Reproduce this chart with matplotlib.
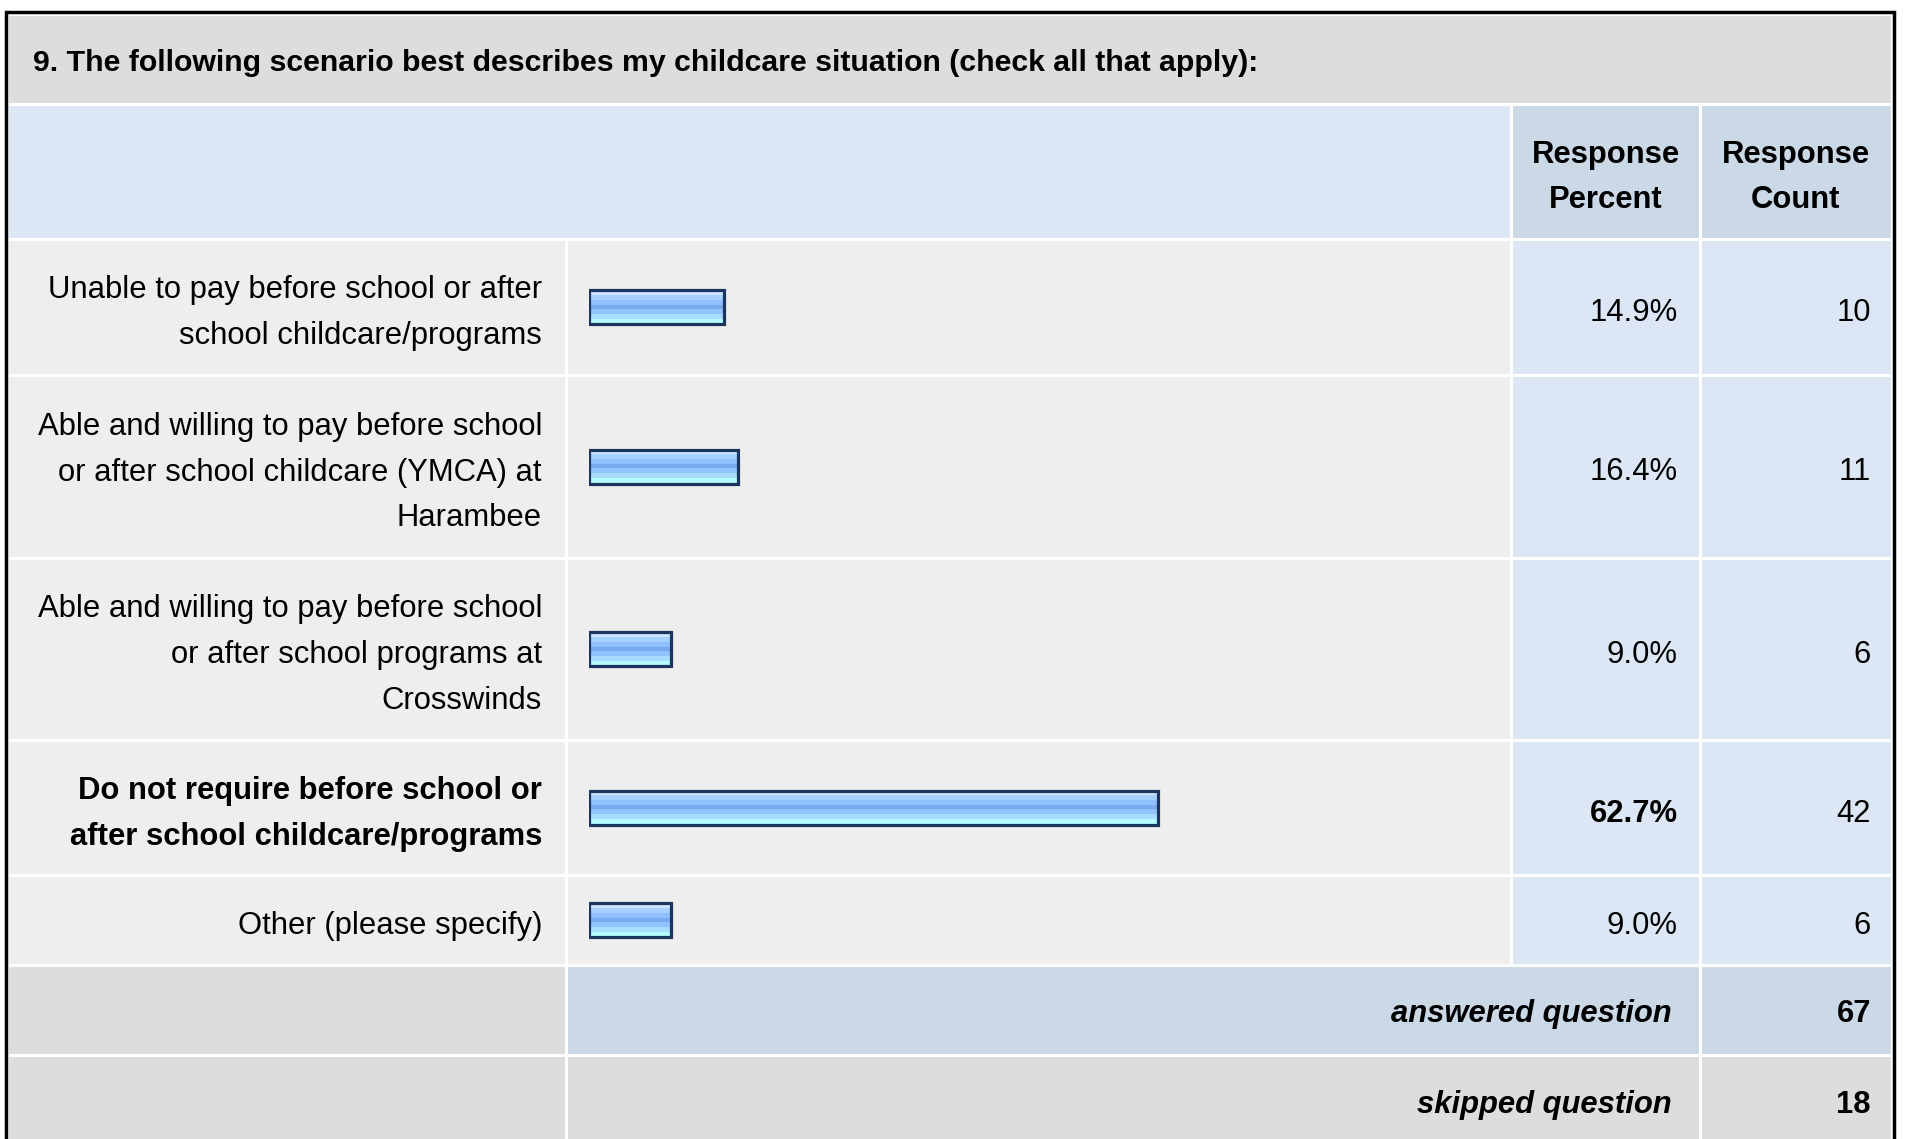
import matplotlib.pyplot as plt
from matplotlib.patches import Rectangle
import numpy as np

plt.rcParams['font.family'] = ['Liberation Sans', 'DejaVu Sans']

# data
title = '9. The following scenario best describes my childcare situation (check all that apply):'
labels = [
    ['Unable to pay before school or after', 'school childcare/programs'],
    ['Able and willing to pay before school', 'or after school childcare (YMCA) at', 'Harambee'],
    ['Able and willing to pay before school', 'or after school programs at', 'Crosswinds'],
    ['Do not require before school or', 'after school childcare/programs'],
    ['Other (please specify)'],
]
percents = [14.9, 16.4, 9.0, 62.7, 9.0]
counts = [10, 11, 6, 42, 6]
answered = 67
skipped = 18

# layout in pixels
W, H = 1907, 1139
xL, xc1, xc2, xc3, xR = 7, 566, 1511, 1700, 1892
yT, y_title, y_head = 14, 104, 239
row_bottoms = [375, 558, 740, 875, 965]
y_ans, y_skip = 1055, 1145

GRAY = '#DDDDDD'
LIGHT = '#EEEEEE'
BLUE = '#DCE6F4'
BLUE2 = '#CBD8E6'

fig = plt.figure(figsize=(W / 100, H / 100), dpi=100)
ax = fig.add_axes([0, 0, 1, 1])
ax.set_xlim(0, W)
ax.set_ylim(H, 0)
ax.axis('off')


def cell(x0, x1, y0, y1, color):
    ax.add_patch(Rectangle((x0, y0), x1 - x0, y1 - y0, facecolor=color,
                           edgecolor='white', linewidth=2.2))


# title and header
cell(xL, xR, yT, y_title, GRAY)
cell(xL, xc2, y_title, y_head, BLUE)
cell(xc2, xc3, y_title, y_head, BLUE2)
cell(xc3, xR, y_title, y_head, BLUE2)

# body rows
tops = [y_head] + row_bottoms[:-1]
for t, b in zip(tops, row_bottoms):
    cell(xL, xc1, t, b, LIGHT)
    cell(xc1, xc2, t, b, LIGHT)
    cell(xc2, xc3, t, b, BLUE)
    cell(xc3, xR, t, b, BLUE)

# footer rows
cell(xL, xc1, row_bottoms[-1], y_ans, GRAY)
cell(xc1, xc3, row_bottoms[-1], y_ans, BLUE2)
cell(xc3, xR, row_bottoms[-1], y_ans, BLUE2)
cell(xL, xc1, y_ans, y_skip, GRAY)
cell(xc1, xc3, y_ans, y_skip, GRAY)
cell(xc3, xR, y_ans, y_skip, GRAY)

# outer frame
ax.plot([xL - 1, xL - 1, xR + 2, xR + 2], [H + 5, yT - 2, yT - 2, H + 5],
        color='black', linewidth=2.5, solid_joinstyle='miter')

fs = 22.3
ax.text(33, (yT + y_title) / 2 + 12, title, fontsize=21.8, fontweight='bold',
        va='baseline', ha='left')
for xc, words in [((xc2 + xc3) / 2, ['Response', 'Percent']),
                  ((xc3 + xR) / 2, ['Response', 'Count'])]:
    ax.text(xc, 152 + 11, words[0], fontsize=fs, fontweight='bold', ha='center', va='baseline')
    ax.text(xc, 197 + 11, words[1], fontsize=fs, fontweight='bold', ha='center', va='baseline')

centers = [(t + b) / 2 for t, b in zip(tops, row_bottoms)]
best = int(np.argmax(percents))
for i, (lines, p, c, yc) in enumerate(zip(labels, percents, counts, centers)):
    wt = 'bold' if i == best else 'normal'
    n = len(lines)
    for j, line in enumerate(lines):
        ly = yc + (j - (n - 1) / 2) * 46
        ax.text(542, ly + 14, line, fontsize=fs, fontweight=wt, ha='right', va='baseline')
    ax.text(1678, yc + 14, f'{p:.1f}%', fontsize=fs, fontweight=wt, ha='right', va='baseline')
    ax.text(1871, yc + 14, str(c), fontsize=fs, ha='right', va='baseline')

ya = (row_bottoms[-1] + y_ans) / 2
ys = (y_ans + 1139) / 2 + 2
ax.text(1672, ya + 12, 'answered question', fontsize=fs, fontweight='bold',
        fontstyle='italic', ha='right', va='baseline')
ax.text(1871, ya + 12, str(answered), fontsize=fs, fontweight='bold', ha='right', va='baseline')
ax.text(1672, ys + 14, 'skipped question', fontsize=fs, fontweight='bold',
        fontstyle='italic', ha='right', va='baseline')
ax.text(1871, ys + 14, str(skipped), fontsize=fs, fontweight='bold', ha='right', va='baseline')

# bars on their own percent axis
bx = fig.add_axes([589 / W, 0, 907 / W, 1])
bx.set_xlim(0, 100)
bx.set_ylim(H, 0)
bx.axis('off')
grad = ['#CCE4FF', '#A6D0FF', '#90C0FF', '#78AAF0', '#90C4FF', '#A8DCFF', '#B4FCFF']
grad_rgb = np.array([[int(g[k:k + 2], 16) / 255 for k in (1, 3, 5)] for g in grad])[:, None, :]
bh = 34
for p, yc in zip(percents, centers):
    bx.imshow(grad_rgb, extent=(0, p, yc + bh / 2, yc - bh / 2), aspect='auto',
              interpolation='nearest', zorder=1)
bx.barh(centers, percents, height=bh, left=0, facecolor='none',
        edgecolor='#1C355E', linewidth=2.3, zorder=2)
bx.set_xlim(0, 100)
bx.set_ylim(H, 0)

fig.savefig('out.png', dpi=100)
